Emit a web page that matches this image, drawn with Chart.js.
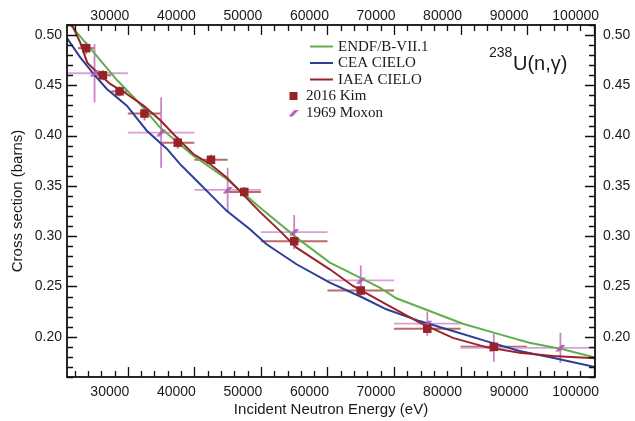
<!DOCTYPE html>
<html>
<head>
<meta charset="utf-8">
<title>238U(n,γ)</title>
<script src="https://cdn.jsdelivr.net/npm/chart.js@4.4.1/dist/chart.umd.min.js"></script>
<style>
  html, body { margin: 0; padding: 0; background: #fff; }
  #wrap { width: 635px; height: 421px; }
</style>
</head>
<body>
<div id="wrap"><canvas id="xs-chart"></canvas></div>
<script>
// ---- evaluations (energy in eV, cross section in barns) ----
const endfEnergy = [21000, 24840, 28400, 31350, 34850, 39840, 44850, 49850, 55350, 60350, 63840, 67850, 70350, 75350, 80340, 85350, 90350, 95340, 100350];
const endfXs     = [0.513, 0.483, 0.455, 0.435, 0.408, 0.380, 0.357, 0.3285, 0.2986, 0.2737, 0.2622, 0.2488, 0.2383, 0.2256, 0.2130, 0.2034, 0.1940, 0.1875, 0.1791];

const ceaEnergy = [20800, 22850, 24840, 26850, 29850, 32850, 35850, 37850, 40350, 42350, 44850, 48350, 50850, 55350, 60350, 65340, 68850, 73850, 78840, 83850, 88850, 93840, 100350];
const ceaXs     = [0.4975, 0.4779, 0.4614, 0.4464, 0.4298, 0.4049, 0.3870, 0.3717, 0.3552, 0.3418, 0.3252, 0.3070, 0.2920, 0.2721, 0.2538, 0.2388, 0.2273, 0.2156, 0.2057, 0.1957, 0.1858, 0.1791, 0.1698];

const iaeaEnergy = [21500, 22850, 23900, 25350, 27350, 29850, 32350, 34850, 37350, 39840, 42350, 44850, 49850, 52850, 55350, 60350, 63840, 68850, 73850, 78840, 83850, 88850, 93840, 100350];
const iaeaXs     = [0.512, 0.4925, 0.4726, 0.4630, 0.4514, 0.4414, 0.4298, 0.4155, 0.3982, 0.3817, 0.3717, 0.3584, 0.3242, 0.3053, 0.2886, 0.2671, 0.2505, 0.2323, 0.2140, 0.1989, 0.1897, 0.1841, 0.1808, 0.1785];

// ---- measurements ----
const kimEnergy = [23750, 26250, 28750, 32500, 37500, 42500, 47500, 55000, 65000, 75000, 85000];
const kimXs     = [0.487, 0.460, 0.444, 0.422, 0.393, 0.376, 0.344, 0.295, 0.246, 0.208, 0.190];
const kimDE     = [1250, 1250, 1250, 2500, 2500, 2500, 2500, 5000, 5000, 5000, 5000];
const kimDXs    = [0.006, 0.005, 0.005, 0.007, 0.006, 0.005, 0.005, 0.006, 0.005, 0.004, 0.004];

const moxonEnergy = [25000, 35000, 45000, 55000, 65000, 75000, 85000, 95000];
const moxonXs     = [0.462, 0.403, 0.346, 0.304, 0.256, 0.213, 0.189, 0.189];
const moxonDE     = [5000, 5000, 5000, 5000, 5000, 5000, 5000, 5000];
const moxonDXs    = [0.029, 0.035, 0.022, 0.017, 0.015, 0.012, 0.014, 0.015];

// ---- axes ----
const xTicks = [30000, 40000, 50000, 60000, 70000, 80000, 90000, 100000];
const yTicks = [0.20, 0.25, 0.30, 0.35, 0.40, 0.45, 0.50];
const X_MIN = 20860, X_MAX = 100200;
const Y_MIN = 0.16, Y_MAX = 0.51;

const GREEN = '#62ae4f';
const BLUE = '#2c3e96';
const RED = '#9b2428';
const KIM = '#96222a';
const MOXON = '#b35cb3';

const toPoints = (xs, ys) => xs.map((x, i) => ({ x, y: ys[i] }));

// slanted marker used for the Moxon points
function makeMoxonMarker() {
  const c = document.createElement('canvas');
  c.width = 10; c.height = 8;
  const g = c.getContext('2d');
  g.fillStyle = MOXON;
  g.beginPath();
  g.moveTo(0, 7.5); g.lineTo(4, 7.5); g.lineTo(10, 1); g.lineTo(6, 1);
  g.closePath();
  g.fill();
  return c;
}
const moxonMarker = makeMoxonMarker();

// horizontal / vertical error bars from dataset.errX / dataset.errY
const errorBars = {
  id: 'errorBars',
  beforeDatasetsDraw(chart) {
    const { ctx, chartArea: a } = chart;
    const xs = chart.scales.x, ys = chart.scales.y;
    ctx.save();
    ctx.beginPath();
    ctx.rect(a.left, a.top, a.right - a.left, a.bottom - a.top);
    ctx.clip();
    chart.data.datasets.forEach(ds => {
      if (!ds.errX) return;
      ds.data.forEach((p, i) => {
        const px = xs.getPixelForValue(p.x), py = ys.getPixelForValue(p.y);
        ctx.lineWidth = ds.errWidth;
        ctx.strokeStyle = ds.errColorX;
        ctx.beginPath();
        ctx.moveTo(xs.getPixelForValue(p.x - ds.errX[i]), py);
        ctx.lineTo(xs.getPixelForValue(p.x + ds.errX[i]), py);
        ctx.stroke();
        ctx.strokeStyle = ds.errColorY;
        ctx.beginPath();
        ctx.moveTo(px, ys.getPixelForValue(p.y - ds.errY[i]));
        ctx.lineTo(px, ys.getPixelForValue(p.y + ds.errY[i]));
        ctx.stroke();
      });
    });
    ctx.restore();
  }
};

// frame with inward major/minor tick marks on all four sides
const frameTicks = {
  id: 'frameTicks',
  afterDraw(chart) {
    const { ctx, chartArea: a, scales } = chart;
    const xMinor = [], yMinor = [];
    for (let v = 22000; v <= 100000; v += 2000) if (v % 10000) xMinor.push(v);
    for (let k = 16; k <= 51; k++) if (k % 5) yMinor.push(k / 100);

    ctx.save();
    ctx.strokeStyle = '#111';
    ctx.lineWidth = 1.3;
    ctx.beginPath();
    const mark = (scale, value, len) => {
      const p = Math.round(scale.getPixelForValue(value)) + 0.5;
      switch (scale.position) {
        case 'bottom': ctx.moveTo(p, a.bottom); ctx.lineTo(p, a.bottom - len); break;
        case 'top':    ctx.moveTo(p, a.top);    ctx.lineTo(p, a.top + len); break;
        case 'left':   ctx.moveTo(a.left, p);   ctx.lineTo(a.left + len, p); break;
        case 'right':  ctx.moveTo(a.right, p);  ctx.lineTo(a.right - len, p); break;
      }
    };
    ['x', 'x2'].forEach(id => {
      xTicks.forEach(v => mark(scales[id], v, 10));
      xMinor.forEach(v => mark(scales[id], v, 6));
    });
    ['y', 'y2'].forEach(id => {
      yTicks.forEach(v => mark(scales[id], v, 10));
      yMinor.forEach(v => mark(scales[id], v, 6));
    });
    ctx.stroke();

    ctx.lineWidth = 1.8;
    ctx.strokeRect(a.left, a.top, a.right - a.left, a.bottom - a.top);
    ctx.restore();
  }
};

// legend block and reaction label inside the plot
const annotations = {
  id: 'annotations',
  afterDraw(chart) {
    const { ctx } = chart;
    ctx.save();
    ctx.textBaseline = 'middle';
    ctx.textAlign = 'left';
    ctx.font = '15px "Liberation Serif", "Times New Roman", serif';
    ctx.fillStyle = '#1a1a1a';

    const lineRows = [
      ['ENDF/B-VII.1', GREEN, 46.5],
      ['CEA CIELO', BLUE, 63],
      ['IAEA CIELO', RED, 79.5]
    ];
    lineRows.forEach(([text, color, y]) => {
      ctx.strokeStyle = color;
      ctx.lineWidth = 2;
      ctx.beginPath();
      ctx.moveTo(310, y); ctx.lineTo(333, y);
      ctx.stroke();
      ctx.fillText(text, 338, y + 0.5);
    });

    ctx.fillStyle = KIM;
    ctx.fillRect(289.5, 92, 8, 8);
    ctx.drawImage(moxonMarker, 288.5, 109);
    ctx.fillStyle = '#1a1a1a';
    ctx.fillText('2016 Kim', 306, 96.5);
    ctx.fillText('1969 Moxon', 306, 113);

    ctx.font = '14px "Liberation Sans", Arial, sans-serif';
    ctx.fillText('238', 489, 53);
    ctx.font = '20px "Liberation Sans", Arial, sans-serif';
    ctx.fillText('U(n,γ)', 513, 64);
    ctx.restore();
  }
};

const tickFont = { family: '"Liberation Sans", Arial, sans-serif', size: 14 };
const titleFont = { family: '"Liberation Sans", Arial, sans-serif', size: 15 };

function xAxis(position, height, padding) {
  return {
    type: 'linear',
    position,
    min: X_MIN,
    max: X_MAX,
    grid: { display: false, drawTicks: false },
    border: { display: false },
    afterBuildTicks: s => { s.ticks = xTicks.map(v => ({ value: v })); },
    afterFit: s => { s.height = height; },
    ticks: {
      font: tickFont, color: '#1a1a1a', padding,
      labelOffset: -18, maxRotation: 0, autoSkip: false,
      callback: v => String(v)
    }
  };
}

function yAxis(position, width, padding) {
  return {
    type: 'linear',
    position,
    min: Y_MIN,
    max: Y_MAX,
    grid: { display: false, drawTicks: false },
    border: { display: false },
    afterBuildTicks: s => { s.ticks = yTicks.map(v => ({ value: v })); },
    afterFit: s => { s.width = width; },
    ticks: {
      font: tickFont, color: '#1a1a1a', padding, autoSkip: false,
      callback: v => v.toFixed(2)
    }
  };
}

const scales = {
  x: xAxis('bottom', 44, 7),
  x2: xAxis('top', 25, 0),
  y: yAxis('left', 67, 5),
  y2: yAxis('right', 40, 8)
};
scales.x.title = {
  display: true, text: 'Incident Neutron Energy (eV)',
  font: titleFont, color: '#1a1a1a', padding: { top: 0, bottom: 2 }
};
scales.y.title = {
  display: true, text: 'Cross section (barns)',
  font: titleFont, color: '#1a1a1a', padding: { top: 9, bottom: 0 }
};

new Chart(document.getElementById('xs-chart'), {
  type: 'line',
  data: {
    datasets: [
      {
        label: '2016 Kim',
        type: 'scatter',
        data: toPoints(kimEnergy, kimXs),
        errX: kimDE, errY: kimDXs,
        errColorX: '#bb6a6a', errColorY: '#c27a7a', errWidth: 2,
        pointStyle: 'rect', pointRadius: 6,
        backgroundColor: KIM, borderColor: KIM, borderWidth: 0,
        order: 0
      },
      {
        label: '1969 Moxon',
        type: 'scatter',
        data: toPoints(moxonEnergy, moxonXs),
        errX: moxonDE, errY: moxonDXs,
        errColorX: '#d7a0d7', errColorY: '#c985c9', errWidth: 1.8,
        pointStyle: moxonMarker, pointRadius: 5,
        backgroundColor: MOXON, borderColor: MOXON,
        order: 1
      },
      {
        label: 'IAEA CIELO',
        data: toPoints(iaeaEnergy, iaeaXs),
        borderColor: RED, borderWidth: 2, pointRadius: 0, tension: 0, fill: false,
        order: 2
      },
      {
        label: 'ENDF/B-VII.1',
        data: toPoints(endfEnergy, endfXs),
        borderColor: GREEN, borderWidth: 2, pointRadius: 0, tension: 0, fill: false,
        order: 3
      },
      {
        label: 'CEA CIELO',
        data: toPoints(ceaEnergy, ceaXs),
        borderColor: BLUE, borderWidth: 2, pointRadius: 0, tension: 0, fill: false,
        order: 4
      }
    ]
  },
  options: {
    responsive: true,
    maintainAspectRatio: false,
    animation: false,
    parsing: false,
    layout: { padding: 0, autoPadding: false },
    plugins: {
      legend: { display: false },
      tooltip: { enabled: false }
    },
    scales
  },
  plugins: [errorBars, frameTicks, annotations]
});
</script>
</body>
</html>
